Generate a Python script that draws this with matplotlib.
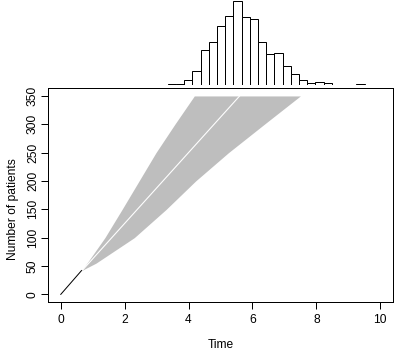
import numpy as np
import matplotlib
matplotlib.use("Agg")
import matplotlib.pyplot as plt

plt.rcParams['font.family'] = ['Liberation Sans', 'DejaVu Sans']

# observed recruitment so far (black line)
obs_time = [0.0, 0.65]
obs_patients = [0, 42]

# envelope of the simulated recruitment curves (grey band)
fan_patients = [42, 55, 100, 150, 200, 250, 300, 350]
fan_fast_time = [0.65, 0.82, 1.38, 1.92, 2.45, 2.98, 3.57, 4.18]
fan_slow_time = [0.65, 1.10, 2.30, 3.30, 4.22, 5.25, 6.37, 7.50]

# median prediction (white line)
med_time = [0.70, 5.60]
med_patients = [44, 350]

# histogram of time to reach 350 patients
hist_start = 3.346
hist_width = 0.257
hist_counts = [1, 1, 8, 21, 52, 64, 88, 103, 125, 101, 98, 64, 46, 48,
               28, 16, 8, 3, 5, 3, 0, 0, 0, 1]

x_ticks = [0, 2, 4, 6, 8, 10]
y_ticks = [0, 50, 100, 150, 200, 250, 300, 350]

W, H = 396, 351
fig = plt.figure(figsize=(W / 72, H / 72), dpi=72)

left, right = 48 / W, 393 / W
ax = fig.add_axes([left, 1 - 302.3 / H, right - left, (302.3 - 88) / H])
axh = fig.add_axes([left, 1 - 85 / H, right - left, (85 - 1.3) / H])

ax.fill_betweenx(fan_patients, fan_fast_time, fan_slow_time,
                 color='#BEBEBE', lw=0)
ax.plot(med_time, med_patients, color='white', lw=1.1)
ax.plot(obs_time, obs_patients, color='black', lw=1)

ax.set_xlim(-0.4, 10.4)
ax.set_ylim(-14, 364)
ax.set_xticks(x_ticks)
ax.set_yticks(y_ticks)
ax.set_yticklabels([str(v) for v in y_ticks], rotation=90, va='center')
ax.tick_params(direction='out', length=7, width=1, labelsize=12)
ax.tick_params(axis='x', pad=5)
ax.tick_params(axis='y', pad=2)
for s in ax.spines.values():
    s.set_linewidth(1)

fig.text(221 / W, 1 - 345 / H, 'Time', ha='center', va='center', fontsize=12)
fig.text(13 / W, 1 - 209 / H, 'Number of patients', ha='center', va='center',
         rotation=90, fontsize=12)

edges = hist_start + hist_width * np.arange(len(hist_counts))
axh.bar(edges, hist_counts, width=hist_width, align='edge',
        facecolor='white', edgecolor='black', lw=1)
axh.plot([0, 10], [0, 0], color='black', lw=1)
axh.set_xlim(-0.4, 10.4)
axh.set_ylim(0, max(hist_counts))
axh.axis('off')

fig.savefig('out.png', dpi=72)
